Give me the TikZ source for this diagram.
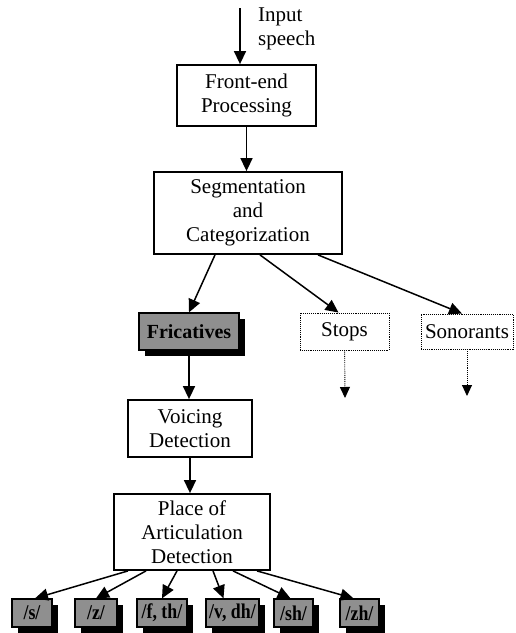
\documentclass[tikz,border=0pt]{standalone}
\usepackage{fontspec}
\setmainfont{Liberation Serif}
\newfontfamily\phonfont{Liberation Serif}[FakeStretch=0.85]
\usepackage{tikz}
\usetikzlibrary{shapes,arrows.meta,positioning,shadows,calc}
\definecolor{boxgray}{HTML}{8F8F8F}

\begin{document}
\begin{tikzpicture}[
    x=1pt, y=-1pt,
    every node/.style={font=\fontsize{21}{24}\selectfont},
    block/.style={rectangle, draw=black, fill=white, line width=1.8pt, align=center, inner sep=2pt},
    catbox/.style={rectangle, draw=black, densely dotted, line width=0.9pt, fill=white, inner sep=2pt},
    shadebox/.style={rectangle, draw=black, fill=boxgray, line width=1.3pt, inner sep=1pt,
                     drop shadow={shadow xshift=6pt, shadow yshift=-6pt, fill=black, opacity=1}},
    phon/.style={shadebox, minimum height=28pt, font=\phonfont\bfseries\fontsize{21}{22}\selectfont},
    arrow/.style={-{Triangle[length=13pt,width=12pt]}, line width=1.5pt},
    dotarrow/.style={-{Triangle[length=11pt,width=10pt]}, densely dotted, line width=0.9pt}
]
    \useasboundingbox (0,0) rectangle (515,633);

    \coordinate (in) at (240,8);
    \node[anchor=north west, align=left, inner sep=0pt] (inlabel) at (258,8) {Input\\speech};

    \node[block, minimum width=139pt, minimum height=61pt] (front) at (246.5,95.5) {Front-end\\Processing};
    \node[block, minimum width=188pt, minimum height=82pt] (seg) at (248,213) {Segmentation\\and\\Categorization};

    \node[shadebox, minimum width=100pt, minimum height=37pt, font=\bfseries\fontsize{20}{24}\selectfont] (fric) at (189,331.5) {Fricatives};
    \node[catbox, minimum width=89pt, minimum height=37pt] (stops) at (344.5,331.5) {Stops};
    \node[catbox, minimum width=92pt, minimum height=35pt] (son) at (467,331.5) {Sonorants};
    \coordinate (stopsend) at (345,398);
    \coordinate (sonend) at (467,396);

    \node[block, minimum width=124pt, minimum height=57pt] (voicing) at (190,428.5) {Voicing\\Detection};
    \node[block, minimum width=156pt, minimum height=76pt] (place) at (192,532) {Place of\\Articulation\\Detection};

    \node[phon, minimum width=40pt] (s) at (32,613) {/s/};
    \node[phon, minimum width=42pt] (z) at (96,613) {/z/};
    \node[phon, minimum width=50pt] (fth) at (162,613) {/f, th/};
    \node[phon, minimum width=53pt] (vdh) at (232.5,613) {/v, dh/};
    \node[phon, minimum width=39pt] (sh) at (293.5,613) {/sh/};
    \node[phon, minimum width=39pt] (zh) at (359.5,613) {/zh/};

    \draw[arrow] (in) -- (in |- front.north);
    \draw[arrow] (front) -- (front |- seg.north);
    \draw[arrow] ([xshift=-33pt]seg.south) -- (fric.north);
    \draw[arrow] ([xshift=12pt]seg.south) -- ([xshift=-6pt]stops.north);
    \draw[arrow] ([xshift=70pt]seg.south) -- ([xshift=-5pt]son.north);
    \draw[dotarrow] (stops) -- (stopsend);
    \draw[dotarrow] (son) -- (sonend);
    \draw[arrow] (fric) -- (fric |- voicing.north);
    \draw[arrow] (voicing) -- (voicing |- place.north);

    \draw[arrow] ([xshift=-64pt]place.south) -- ([xshift=3pt]s.north);
    \draw[arrow] ([xshift=-46pt]place.south) -- (z.north);
    \draw[arrow] ([xshift=-15pt]place.south) -- (fth.north);
    \draw[arrow] ([xshift=21pt]place.south) -- ([xshift=-9pt]vdh.north);
    \draw[arrow] ([xshift=41pt]place.south) -- ([xshift=-3pt]sh.north);
    \draw[arrow] ([xshift=65pt]place.south) -- ([xshift=-6pt]zh.north);
\end{tikzpicture}
\end{document}
